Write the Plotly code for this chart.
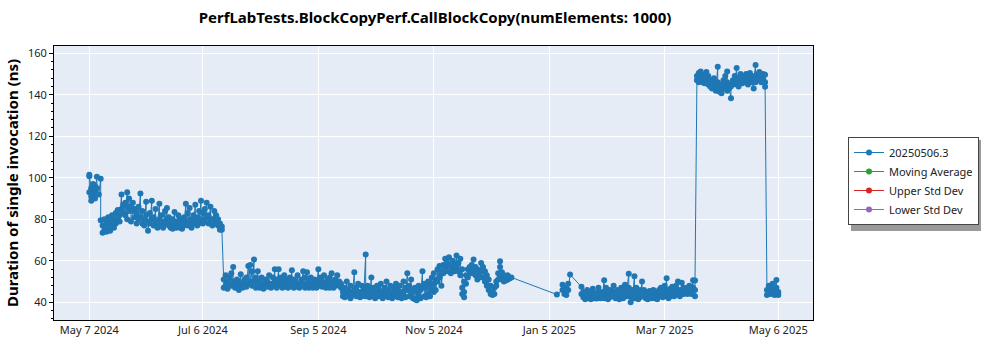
import plotly.graph_objects as go

# ---- data ----
run_dates = [
    "2024-05-07", "2024-05-08", "2024-05-09", "2024-05-10", "2024-05-11", "2024-05-12", "2024-05-13",
    "2024-05-14", "2024-05-15", "2024-05-16", "2024-05-17", "2024-05-18", "2024-05-19", "2024-05-20",
    "2024-05-21", "2024-05-22", "2024-05-23", "2024-05-24", "2024-05-25", "2024-05-26", "2024-05-27",
    "2024-05-28", "2024-05-29", "2024-05-30", "2024-05-31", "2024-06-01", "2024-06-02", "2024-06-03",
    "2024-06-04", "2024-06-05", "2024-06-06", "2024-06-07", "2024-06-08", "2024-06-09", "2024-06-10",
    "2024-06-11", "2024-06-12", "2024-06-13", "2024-06-14", "2024-06-15", "2024-06-16", "2024-06-17",
    "2024-06-18", "2024-06-19", "2024-06-20", "2024-06-21", "2024-06-22", "2024-06-23", "2024-06-24",
    "2024-06-25", "2024-06-26", "2024-06-27", "2024-06-28", "2024-06-29", "2024-06-30", "2024-07-01",
    "2024-07-02", "2024-07-03", "2024-07-04", "2024-07-05", "2024-07-06", "2024-07-07", "2024-07-08",
    "2024-07-09", "2024-07-10", "2024-07-11", "2024-07-12", "2024-07-13", "2024-07-14", "2024-07-15",
    "2024-07-16",
    "2024-07-17", "2024-07-18", "2024-07-19", "2024-07-20", "2024-07-21", "2024-07-22", "2024-07-23",
    "2024-07-24", "2024-07-25", "2024-07-26", "2024-07-27", "2024-07-28", "2024-07-29", "2024-07-30",
    "2024-07-31", "2024-08-01", "2024-08-02", "2024-08-03", "2024-08-04", "2024-08-05", "2024-08-06",
    "2024-08-07", "2024-08-08", "2024-08-09", "2024-08-10", "2024-08-11", "2024-08-12", "2024-08-13",
    "2024-08-14", "2024-08-15", "2024-08-16", "2024-08-17", "2024-08-18", "2024-08-19", "2024-08-20",
    "2024-08-21", "2024-08-22", "2024-08-23", "2024-08-24", "2024-08-25", "2024-08-26", "2024-08-27",
    "2024-08-28", "2024-08-29", "2024-08-30", "2024-08-31", "2024-09-01", "2024-09-02", "2024-09-03",
    "2024-09-04", "2024-09-05", "2024-09-06", "2024-09-07", "2024-09-08", "2024-09-09", "2024-09-10",
    "2024-09-11", "2024-09-12", "2024-09-13", "2024-09-14", "2024-09-15", "2024-09-16", "2024-09-17",
    "2024-09-18", "2024-09-19", "2024-09-20", "2024-09-21", "2024-09-22", "2024-09-23", "2024-09-24",
    "2024-09-25", "2024-09-26", "2024-09-27", "2024-09-28", "2024-09-29", "2024-09-30", "2024-10-01",
    "2024-10-02", "2024-10-03", "2024-10-04", "2024-10-05", "2024-10-06", "2024-10-07", "2024-10-08",
    "2024-10-09", "2024-10-10", "2024-10-11", "2024-10-12", "2024-10-13", "2024-10-14", "2024-10-15",
    "2024-10-16", "2024-10-17", "2024-10-18", "2024-10-19", "2024-10-20", "2024-10-21", "2024-10-22",
    "2024-10-23", "2024-10-24", "2024-10-25", "2024-10-26", "2024-10-27", "2024-10-28", "2024-10-29",
    "2024-10-30", "2024-10-31", "2024-11-01", "2024-11-02", "2024-11-03", "2024-11-04",
    "2024-11-05", "2024-11-06", "2024-11-07", "2024-11-08", "2024-11-09", "2024-11-10", "2024-11-11",
    "2024-11-12", "2024-11-13", "2024-11-14", "2024-11-15", "2024-11-16", "2024-11-17", "2024-11-18",
    "2024-11-19", "2024-11-20", "2024-11-21", "2024-11-22", "2024-11-23", "2024-11-24", "2024-11-25",
    "2024-11-26", "2024-11-27", "2024-11-28", "2024-11-29", "2024-11-30", "2024-12-01", "2024-12-02",
    "2024-12-03", "2024-12-04", "2024-12-05", "2024-12-06", "2024-12-07", "2024-12-08", "2024-12-09",
    "2024-12-10", "2024-12-11", "2024-12-12", "2024-12-13", "2024-12-14", "2024-12-15", "2024-12-16",
    "2025-01-09", "2025-01-12", "2025-01-13", "2025-01-14", "2025-01-15", "2025-01-16", "2025-01-22",
    "2025-01-23", "2025-01-24", "2025-01-25", "2025-01-26", "2025-01-27", "2025-01-28", "2025-01-29",
    "2025-01-30", "2025-01-31", "2025-02-01", "2025-02-02", "2025-02-03", "2025-02-04", "2025-02-05",
    "2025-02-06", "2025-02-07", "2025-02-08", "2025-02-09", "2025-02-10", "2025-02-11", "2025-02-12",
    "2025-02-13", "2025-02-14", "2025-02-15", "2025-02-16", "2025-02-17", "2025-02-18", "2025-02-19",
    "2025-02-20", "2025-02-21", "2025-02-22", "2025-02-23", "2025-02-24", "2025-02-25", "2025-02-26",
    "2025-02-27", "2025-02-28", "2025-03-01", "2025-03-02", "2025-03-03", "2025-03-04", "2025-03-05",
    "2025-03-06", "2025-03-07", "2025-03-08", "2025-03-09", "2025-03-10", "2025-03-11", "2025-03-12",
    "2025-03-13", "2025-03-14", "2025-03-15", "2025-03-16", "2025-03-17", "2025-03-18", "2025-03-19",
    "2025-03-20", "2025-03-21", "2025-03-22", "2025-03-23",
    "2025-03-24", "2025-03-25", "2025-03-26", "2025-03-27", "2025-03-28", "2025-03-29", "2025-03-30",
    "2025-03-31", "2025-04-01", "2025-04-02", "2025-04-03", "2025-04-04", "2025-04-05", "2025-04-06",
    "2025-04-07", "2025-04-08", "2025-04-09", "2025-04-10", "2025-04-11", "2025-04-12", "2025-04-13",
    "2025-04-14", "2025-04-15", "2025-04-16", "2025-04-17", "2025-04-18", "2025-04-19", "2025-04-20",
    "2025-04-21", "2025-04-22", "2025-04-23", "2025-04-24", "2025-04-25", "2025-04-26", "2025-04-27",
    "2025-04-28", "2025-04-29",
    "2025-04-30", "2025-05-01", "2025-05-02", "2025-05-03", "2025-05-04", "2025-05-05", "2025-05-06",
]

# durations (ns) of the runs on each date, same order as run_dates
run_values = [
    [93, 101.5, 100.8], [95, 91, 89], [94, 97, 92], [90, 96, 93], [100.5, 95], [92], [99.5, 79.5],
    [77, 73.5], [80, 75], [74, 78], [81, 76], [79, 74.5], [77, 82], [80, 76],
    [83, 78], [84.5, 80], [82, 79], [92, 85], [87, 83], [88, 82], [93, 86, 80],
    [90, 84], [86, 79], [84, 88], [81, 85], [83, 78], [86, 80], [92.5, 81],
    [84, 78], [80, 77], [88.5, 82], [79, 74.5], [83, 78], [89, 80], [81, 77],
    [85, 79], [78, 76], [87.5, 80], [82, 77], [79, 76], [84, 78], [85.5, 80],
    [81, 77], [78, 76], [80, 75.5], [83.5, 78], [79, 76], [82, 77], [80, 76],
    [78, 75.5], [81, 77], [87.5, 79], [83, 77], [85.5, 78], [80, 76], [82, 78],
    [87, 79], [81, 77], [84, 78], [89, 80], [83, 78], [85, 79], [88, 81],
    [82, 78], [86, 80], [80, 77], [84, 79], [82, 78], [80, 77], [78, 75],
    [76.5, 75],
    [51, 47], [53, 48], [50, 46.5], [49, 52], [54, 48], [57, 50], [49, 47],
    [51, 48], [50, 46], [53.5, 48], [49, 47], [51, 48], [52, 47.5], [57.5, 49],
    [58, 50], [55, 48], [60.7, 50], [52, 47], [55, 48.5], [50, 47], [52, 48],
    [49, 46.5], [51, 48], [50, 47.5], [53, 48], [49, 47], [52, 48], [56, 49],
    [51, 47], [56, 49], [52, 48], [50, 47], [53, 48], [51, 47.5], [49, 47],
    [52, 48], [55.5, 49], [51, 47], [50, 48], [53, 47.5], [49, 47], [51, 48],
    [55, 49], [52, 47], [54.5, 48], [50, 47], [52, 48], [49, 47], [51, 48],
    [50, 47], [56, 49], [52, 48], [50, 47.5], [53, 48], [49, 47], [51, 48],
    [52, 47], [54, 48.5], [50, 47], [51, 48], [53, 49], [50, 48], [49, 47],
    [45, 43], [47, 42.5], [50, 44], [46, 43], [48, 42], [45, 43.5], [54.5, 46],
    [47, 43], [49, 44], [45, 42.5], [48, 43], [46, 44], [63, 47, 43], [48, 44],
    [46, 42.5], [52, 45], [47, 43], [45, 42], [48, 44], [46, 43], [49, 43.5],
    [45, 42], [47, 43], [50, 44], [46, 42.5], [48, 43], [45, 42], [47, 43],
    [49, 44], [46, 42.5], [48, 43], [45, 42], [50, 44], [47, 42.5], [54, 46],
    [48, 43], [51, 44], [46, 42], [47, 41.5], [45, 41], [48, 43], [46, 42],
    [55, 47], [49, 43], [47, 42.5], [50, 44], [48, 43], [52, 46],
    [49, 54, 45], [51, 46], [56, 50], [57.5, 52], [55, 48], [58, 54], [61, 57],
    [59, 55], [61.7, 58], [57, 54], [60, 56], [58, 55], [62.6, 57], [59, 55],
    [61, 53], [56, 47, 44], [42.5, 50, 45], [53, 49], [56, 52], [55, 57], [58, 54],
    [60.7, 55], [57, 53], [56, 51], [54, 52], [59, 55], [57, 52], [55, 50],
    [53, 48], [51, 46], [48, 44], [45, 43.5], [47, 44], [50, 48], [54, 51],
    [59.8, 57, 52], [54.5, 51], [53, 50], [52, 50.5], [53, 51], [51.5, 52], [52],
    [43.8], [46, 48.5], [44, 47], [45.5, 43.5], [49, 46], [53.4], [47.5, 44],
    [42.5, 45], [41.5, 44], [43, 46], [42, 44.5], [45, 41.5], [43, 46.5], [42, 44],
    [44.5, 41.8], [47, 43], [42, 45], [44, 42.5], [50.7, 45, 42], [47, 43], [44, 41.5],
    [46, 42.5], [43, 45.5], [48, 44], [42, 45], [46, 43], [44, 41.5], [47, 43],
    [45, 42], [48.5, 44], [43, 46], [53.8, 47, 43], [40, 44], [46, 42.5], [52.6, 45, 42],
    [47, 43.5], [44, 41.5], [46, 42.5], [50, 45], [43, 46], [45, 42], [41.5, 44],
    [43, 45.5], [42, 44], [46, 43], [42, 44.5], [45, 41.5], [44, 46], [47, 43],
    [45, 42.5], [48, 44], [51.6, 46, 43], [44, 42], [46.5, 43], [45, 47.5], [43, 46],
    [48, 44], [50, 45], [46, 43], [49.5, 45], [47, 44], [45, 46.5], [44, 47],
    [48, 45], [46, 44], [50.6, 47], [43, 46, 50.5],
    [147, 149], [150.5, 146], [151.2, 148], [146, 149.5], [148, 145.5], [151, 147], [149, 145],
    [147, 144], [146, 143], [148, 144.5], [145, 142], [153.5, 146, 143], [144, 141.5], [140.7, 145],
    [147, 143], [149, 144.5], [151.2, 146, 142], [145, 143], [138.3, 144], [147, 145], [149, 146],
    [152.9, 148, 145], [147, 144], [150, 146], [148, 145.5], [146, 149], [150, 147], [148, 145],
    [147, 150.5], [149, 146], [143, 147], [154.4, 149, 146], [150, 147], [148, 151], [146, 149],
    [150, 147.5], [149.6, 143.9, 146],
    [46, 43.5], [48, 45], [44, 47], [46, 49], [43.5, 45], [50.8, 47], [45, 43.5],
]

tick_dates = ["2024-05-07", "2024-07-06", "2024-09-05", "2024-11-05", "2025-01-05", "2025-03-07", "2025-05-06"]
tick_labels = ["May 7 2024", "Jul 6 2024", "Sep 5 2024", "Nov 5 2024", "Jan 5 2025", "Mar 7 2025", "May 6 2025"]
y_ticks = [40, 60, 80, 100, 120, 140, 160]

series_names = ["20250506.3", "Moving Average", "Upper Std Dev", "Lower Std Dev"]
series_colors = ["#1f77b4", "#2ca02c", "#d62728", "#9467bd"]

# ---- flatten runs into points ----
xs, ys = [], []
for d, vals in zip(run_dates, run_values):
    for v in vals:
        xs.append(d)
        ys.append(v)

FONT = "Noto Sans"
L, R, T, B = 54, 187, 46, 30
PW, PH = 1000 - L - R, 350 - T - B


def px_x(px):
    return (px - L) / PW


def px_y(py):
    return (350 - B - py) / PH


fig = go.Figure()
fig.add_trace(go.Scatter(
    x=xs, y=ys, mode="lines+markers", name=series_names[0],
    line=dict(color=series_colors[0], width=1),
    marker=dict(color=series_colors[0], size=6),
))
for name, col in zip(series_names[1:], series_colors[1:]):
    fig.add_trace(go.Scatter(
        x=[None], y=[None], mode="lines+markers", name=name,
        line=dict(color=col, width=1), marker=dict(color=col, size=6),
    ))

fig.update_layout(
    width=1000, height=350,
    margin=dict(l=L, r=R, t=T, b=B),
    paper_bgcolor="white", plot_bgcolor="#e5ecf6",
    font=dict(family=FONT, size=11, color="#222222"),
    title=dict(text="<b>PerfLabTests.BlockCopyPerf.CallBlockCopy(numElements: 1000)</b>",
               x=435 / 1000, xanchor="center", y=1 - 18 / 350, yanchor="middle",
               font=dict(family=FONT, size=15, color="black")),
    showlegend=True,
    legend=dict(x=px_x(848), y=px_y(137), xanchor="left", yanchor="top",
                bgcolor="white", bordercolor="#444444", borderwidth=1,
                font=dict(family=FONT, size=11, color="#222222")),
    shapes=[dict(type="rect", xref="paper", yref="paper",
                 x0=px_x(851), x1=px_x(981), y0=px_y(231), y1=px_y(140),
                 fillcolor="#9a9a9a", line=dict(width=0), layer="above")],
)

fig.update_xaxes(
    type="date", range=["2024-04-18 08:00", "2025-05-24 08:00"],
    tickmode="array", tickvals=tick_dates, ticktext=tick_labels,
    showgrid=True, gridcolor="white", gridwidth=1,
    showline=True, linecolor="black", linewidth=1, mirror=True,
    ticks="", zeroline=False,
)
fig.update_yaxes(
    range=[31.5, 163.5], tickmode="array", tickvals=y_ticks,
    showgrid=True, gridcolor="white", gridwidth=1,
    showline=True, linecolor="black", linewidth=1, mirror=True,
    ticks="outside", ticklen=4, tickcolor="black", zeroline=False,
    minor=dict(dtick=4, tick0=0, ticks="outside", ticklen=2, tickcolor="black", showgrid=False),
    title=dict(text="<b>Duration of single invocation (ns)</b>", standoff=5,
               font=dict(family=FONT, size=15, color="black")),
)

fig.write_html("out.html")
